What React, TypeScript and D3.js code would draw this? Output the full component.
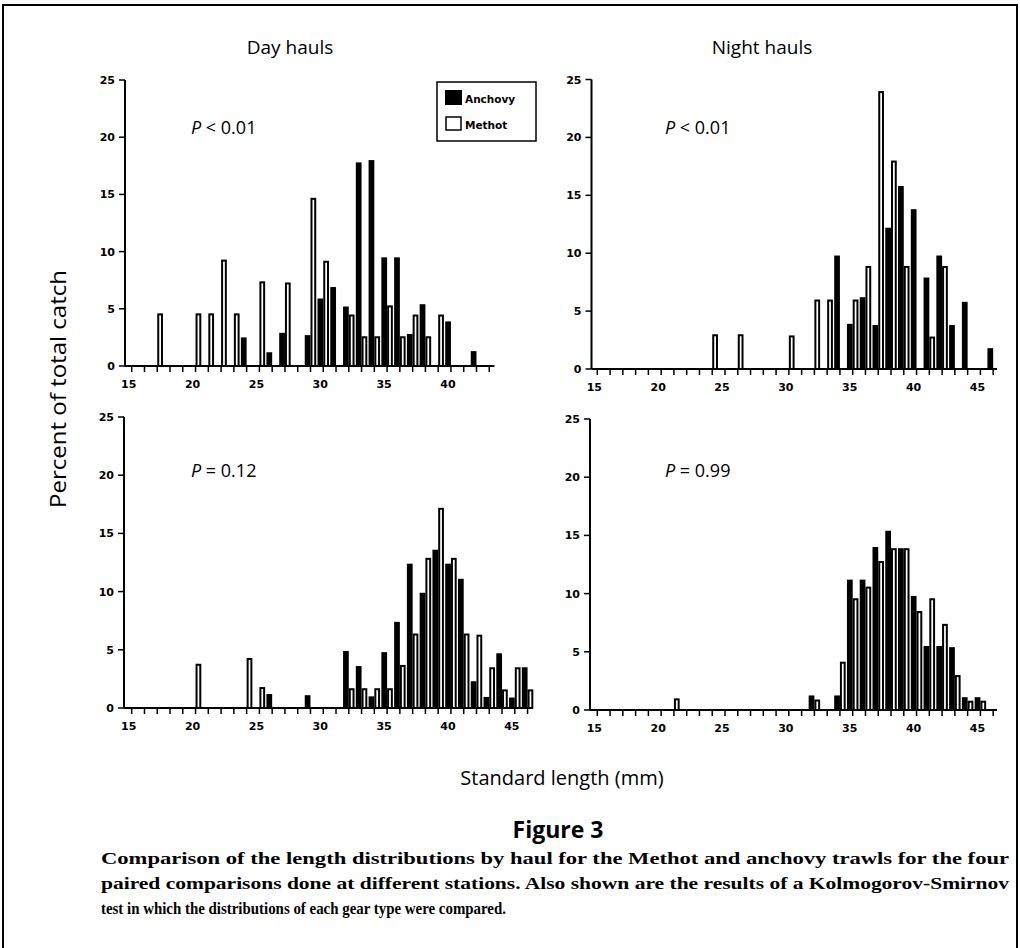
import React, { useEffect, useRef } from "react";
import * as d3 from "d3";

// standard length classes (mm)
const lengths = [15, 16, 17, 18, 19, 20, 21, 22, 23, 24, 25, 26, 27, 28, 29, 30, 31, 32, 33, 34, 35, 36, 37, 38, 39, 40, 41, 42, 43, 44, 45, 46];

// percent of total catch, one value per length class
const dayAnchovyA = [0, 0, 0, 0, 0, 0, 0, 0, 0, 2.5, 0, 1.2, 2.9, 0, 2.7, 5.9, 6.9, 5.2, 17.8, 18.0, 9.5, 9.5, 2.8, 5.4, 0, 3.9, 0, 1.3, 0, 0, 0, 0];
const dayMethotA = [0, 0, 4.6, 0, 0, 4.6, 4.6, 9.3, 4.6, 0, 7.4, 0, 7.3, 0, 14.7, 9.2, 0, 4.5, 2.6, 2.6, 5.3, 2.6, 4.5, 2.6, 4.5, 0, 0, 0, 0, 0, 0, 0];
const nightAnchovyA = [0, 0, 0, 0, 0, 0, 0, 0, 0, 0, 0, 0, 0, 0, 0, 0, 0, 0, 0, 9.8, 3.9, 6.2, 3.8, 12.2, 15.8, 13.8, 7.9, 9.8, 3.8, 5.8, 0, 1.8];
const nightMethotA = [0, 0, 0, 0, 0, 0, 0, 0, 0, 3.0, 0, 3.0, 0, 0, 0, 2.9, 0, 6.0, 6.0, 0, 6.0, 8.9, 24.0, 18.0, 8.9, 0, 2.8, 8.9, 0, 0, 0, 0];
const dayAnchovyB = [0, 0, 0, 0, 0, 0, 0, 0, 0, 0, 0, 1.2, 0, 0, 1.1, 0, 0, 4.9, 3.6, 1.0, 4.8, 7.4, 12.4, 9.9, 13.6, 12.4, 11.1, 2.3, 0.95, 4.7, 0.9, 3.5];
const dayMethotB = [0, 0, 0, 0, 0, 3.8, 0, 0, 0, 4.3, 1.8, 0, 0, 0, 0, 0, 0, 1.7, 1.7, 1.7, 1.7, 3.7, 6.4, 12.9, 17.2, 12.9, 6.4, 6.3, 3.5, 1.6, 3.5, 1.6];
const nightAnchovyB = [0, 0, 0, 0, 0, 0, 0, 0, 0, 0, 0, 0, 0, 0, 0, 0, 0, 1.25, 0, 1.25, 11.2, 11.2, 14.0, 15.4, 13.9, 9.8, 5.5, 5.5, 5.4, 1.1, 1.1, 0];
const nightMethotB = [0, 0, 0, 0, 0, 0, 1.0, 0, 0, 0, 0, 0, 0, 0, 0, 0, 0, 0.9, 0, 4.15, 9.6, 10.6, 12.8, 13.9, 13.9, 8.5, 9.6, 7.4, 3.0, 0.8, 0.8, 0];

const yTicks = [0, 5, 10, 15, 20, 25];
const xTickLabelsShort = [15, 20, 25, 30, 35, 40];
const xTickLabelsLong = [15, 20, 25, 30, 35, 40, 45];
const pValues = ["< 0.01", "< 0.01", "= 0.12", "= 0.99"];

const caption = [
  "Comparison of the length distributions by haul for the Methot and anchovy trawls for the four",
  "paired comparisons done at different stations. Also shown are the results of a Kolmogorov-Smirnov",
  "test in which the distributions of each gear type were compared.",
];
const captionWidths = [908, 908, 405];

const MM = 12.77; // px per mm

const panels = [
  { anchovy: dayAnchovyA, methot: dayMethotA, p: pValues[0], axisX: 125, x15: 131.7, xEnd: 43.4, y0: 366, y25: 80, labels: xTickLabelsShort, pX: 191, pY: 134 },
  { anchovy: nightAnchovyA, methot: nightMethotA, p: pValues[1], axisX: 591.5, x15: 597.3, xEnd: 46.3, y0: 369, y25: 79.5, labels: xTickLabelsLong, pX: 665, pY: 134 },
  { anchovy: dayAnchovyB, methot: dayMethotB, p: pValues[2], axisX: 124, x15: 131.7, xEnd: 46.3, y0: 708, y25: 417, labels: xTickLabelsLong, pX: 191, pY: 477 },
  { anchovy: nightAnchovyB, methot: nightMethotB, p: pValues[3], axisX: 590, x15: 597.3, xEnd: 46.3, y0: 710, y25: 419, labels: xTickLabelsLong, pX: 665, pY: 477 },
];

const tickFont = "'DejaVu Sans', sans-serif";
const labelFont = "'Open Sans', sans-serif";

const App = () => {
  const ref = useRef<SVGSVGElement | null>(null);

  useEffect(() => {
    const svg = d3.select(ref.current);
    svg.selectAll("*").remove();

    // frame
    svg.append("path")
      .attr("d", "M3,948 L3,5 L1017,5 L1017,948")
      .attr("fill", "none").attr("stroke", "#000").attr("stroke-width", 2);

    panels.forEach((pn) => {
      const xStart = 15 - (pn.x15 - pn.axisX) / MM;
      const x = d3.scaleLinear().domain([15, 46]).range([pn.x15, pn.x15 + 31 * MM]);
      const y = d3.scaleLinear().domain([0, 25]).range([pn.y0, pn.y25]);
      const g = svg.append("g");

      // bars: anchovy left of the tick, Methot right of it
      const bw = 0.45;
      lengths.forEach((len, i) => {
        const a = pn.anchovy[i];
        const m = pn.methot[i];
        if (a > 0) {
          g.append("rect")
            .attr("x", x(len - bw)).attr("y", y(a))
            .attr("width", x(len) - x(len - bw)).attr("height", y(0) - y(a))
            .attr("fill", "#000");
        }
        if (m > 0) {
          g.append("rect")
            .attr("x", x(len) + 1).attr("y", y(m) + 1)
            .attr("width", x(len + bw) - x(len) - 2).attr("height", y(0) - y(m) - 1)
            .attr("fill", "#fff").attr("stroke", "#000").attr("stroke-width", 2);
        }
      });

      // x axis
      g.append("line")
        .attr("x1", x(xStart)).attr("x2", x(pn.xEnd))
        .attr("y1", y(0)).attr("y2", y(0))
        .attr("stroke", "#000").attr("stroke-width", 2);
      const xt = lengths.filter((l) => l <= pn.xEnd);
      g.selectAll(".xt").data(xt).enter().append("line")
        .attr("x1", (d) => x(d)).attr("x2", (d) => x(d))
        .attr("y1", y(0)).attr("y2", y(0) + 6)
        .attr("stroke", "#000").attr("stroke-width", 1.5);
      g.selectAll(".xl").data(pn.labels).enter().append("text")
        .attr("x", (d) => x(d) - 3).attr("y", y(0) + 22)
        .attr("text-anchor", "middle")
        .attr("font-family", tickFont).attr("font-weight", "bold").attr("font-size", 11)
        .text((d) => d);

      // y axis
      g.append("line")
        .attr("x1", pn.axisX).attr("x2", pn.axisX)
        .attr("y1", y(0)).attr("y2", y(25))
        .attr("stroke", "#000").attr("stroke-width", 2);
      g.selectAll(".yt").data(yTicks).enter().append("line")
        .attr("x1", pn.axisX - 6).attr("x2", pn.axisX)
        .attr("y1", (d) => y(d)).attr("y2", (d) => y(d))
        .attr("stroke", "#000").attr("stroke-width", 1.5);
      g.selectAll(".yl").data(yTicks).enter().append("text")
        .attr("x", pn.axisX - 10).attr("y", (d) => y(d) + 4)
        .attr("text-anchor", "end")
        .attr("font-family", tickFont).attr("font-weight", "bold").attr("font-size", 11)
        .text((d) => d);

      // K-S result
      const pt = g.append("text")
        .attr("x", pn.pX).attr("y", pn.pY)
        .attr("font-family", labelFont).attr("font-size", 18);
      pt.append("tspan").attr("font-style", "italic").text("P");
      pt.append("tspan").text(" " + pn.p);
    });

    // legend
    const lg = svg.append("g");
    lg.append("rect").attr("x", 437).attr("y", 82).attr("width", 99).attr("height", 59)
      .attr("fill", "#fff").attr("stroke", "#000").attr("stroke-width", 1.5);
    lg.append("rect").attr("x", 445).attr("y", 90).attr("width", 17).attr("height", 15).attr("fill", "#000");
    lg.append("rect").attr("x", 446).attr("y", 117).attr("width", 15).attr("height", 13)
      .attr("fill", "#fff").attr("stroke", "#000").attr("stroke-width", 1.5);
    lg.append("text").attr("x", 465).attr("y", 103)
      .attr("font-family", tickFont).attr("font-weight", "bold").attr("font-size", 10.5).text("Anchovy");
    lg.append("text").attr("x", 465).attr("y", 129)
      .attr("font-family", tickFont).attr("font-weight", "bold").attr("font-size", 10.5).text("Methot");

    // titles and axis labels
    svg.append("text").attr("x", 290).attr("y", 54).attr("text-anchor", "middle")
      .attr("font-family", labelFont).attr("font-size", 19).text("Day hauls");
    svg.append("text").attr("x", 762).attr("y", 54).attr("text-anchor", "middle")
      .attr("font-family", labelFont).attr("font-size", 19).text("Night hauls");
    svg.append("text")
      .attr("transform", "translate(66,389) rotate(-90)")
      .attr("text-anchor", "middle")
      .attr("font-family", labelFont).attr("font-size", 21)
      .attr("textLength", 238).attr("lengthAdjust", "spacingAndGlyphs")
      .text("Percent of total catch");
    svg.append("text").attr("x", 562).attr("y", 785).attr("text-anchor", "middle")
      .attr("font-family", labelFont).attr("font-size", 20).text("Standard length (mm)");

    svg.append("text").attr("x", 558).attr("y", 838).attr("text-anchor", "middle")
      .attr("font-family", labelFont).attr("font-weight", "bold").attr("font-size", 23).text("Figure 3");

    caption.forEach((line, i) => {
      svg.append("text").attr("x", 101).attr("y", 864 + i * 25)
        .attr("font-family", "'Liberation Serif', serif").attr("font-weight", "bold")
        .attr("font-size", 17)
        .attr("textLength", captionWidths[i]).attr("lengthAdjust", "spacingAndGlyphs")
        .text(line);
    });
  }, []);

  return (
    <svg
      ref={ref}
      width={1020}
      height={948}
      style={{ position: "absolute", left: 0, top: 0, background: "#fff" }}
    />
  );
};

export default App;
